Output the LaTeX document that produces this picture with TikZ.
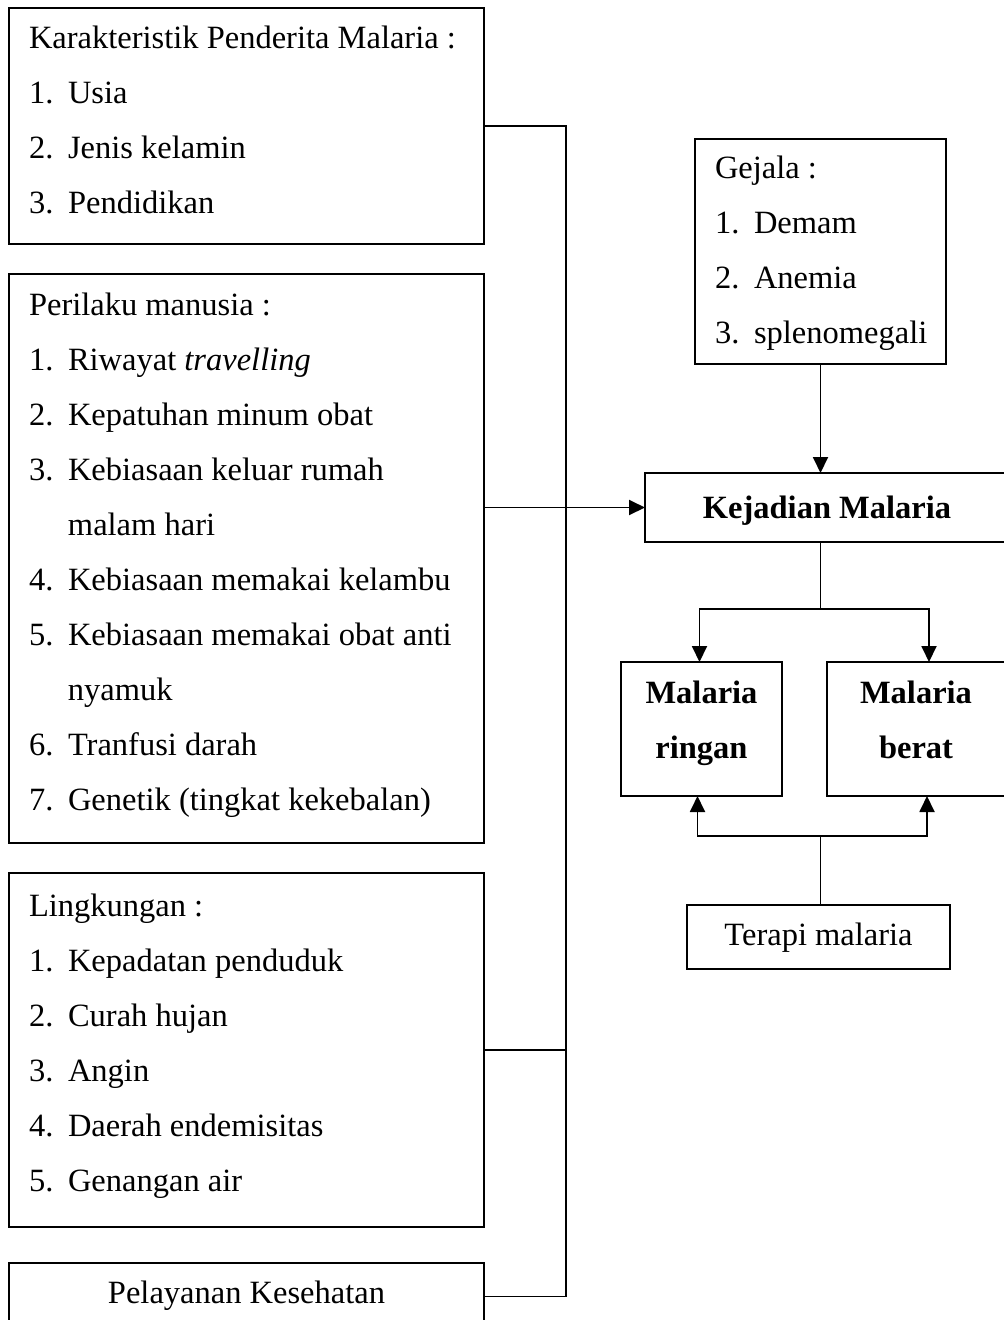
\documentclass[tikz,border=0pt]{standalone}
\usepackage{fontspec}
\setmainfont{Liberation Serif}
\usetikzlibrary{arrows.meta}

\newcommand{\nr}[1]{\makebox[39pt][l]{#1}}
\newcommand{\lst}[2]{\makebox[#1][l]{\begin{tabular}[t]{@{}l@{}}#2\end{tabular}}}
\newcommand{\stk}[1]{\begin{tabular}[t]{@{}c@{}}#1\end{tabular}}

\begin{document}
\begin{tikzpicture}[x=1pt,y=-1pt,
    font=\fontsize{32.5}{55}\selectfont,
    boxnode/.style={draw, line width=2pt, inner ysep=0pt, outer sep=0pt},
    listnode/.style={boxnode, inner xsep=20pt, anchor=base west},
    conn/.style={line width=1.9pt},
    flow/.style={conn, -{Triangle[length=16pt,width=15pt]}}]
    \useasboundingbox (0,0) rectangle (1004,1320);

    % Faktor (kiri)
    \node[listnode, text height=40pt, text depth=196pt] (karakteristik) at (9,48)
        {\lst{435pt}{Karakteristik Penderita Malaria :\\ \nr{1.}Usia\\ \nr{2.}Jenis kelamin\\ \nr{3.}Pendidikan}};
    \node[listnode, text height=41pt, text depth=528pt] (perilaku) at (9,315)
        {\lst{435pt}{Perilaku manusia :\\ \nr{1.}Riwayat \textit{travelling}\\ \nr{2.}Kepatuhan minum obat\\
        \nr{3.}Kebiasaan keluar rumah\\ \nr{}malam hari\\ \nr{4.}Kebiasaan memakai kelambu\\
        \nr{5.}Kebiasaan memakai obat anti\\ \nr{}nyamuk\\ \nr{6.}Tranfusi darah\\ \nr{7.}Genetik (tingkat kekebalan)}};
    \node[listnode, text height=43pt, text depth=311pt] (lingkungan) at (9,916)
        {\lst{435pt}{Lingkungan :\\ \nr{1.}Kepadatan penduduk\\ \nr{2.}Curah hujan\\ \nr{3.}Angin\\
        \nr{4.}Daerah endemisitas\\ \nr{5.}Genangan air}};
    \node[boxnode, minimum width=475pt, text height=40pt, text depth=27pt, anchor=base west] (pelayanan) at (9,1303)
        {Pelayanan Kesehatan};

    % Gejala dan kejadian (kanan)
    \node[listnode, text height=39pt, text depth=186pt] (gejala) at (695,178)
        {\lst{211pt}{Gejala :\\ \nr{1.}Demam\\ \nr{2.}Anemia\\ \nr{3.}splenomegali}};
    \node[boxnode, minimum width=364pt, text height=45pt, text depth=24pt, anchor=base] (kejadian) at (827,518)
        {\textbf{Kejadian Malaria}};
    \node[boxnode, minimum width=161pt, text height=41pt, text depth=93pt, anchor=base] (ringan) at (701.5,703)
        {\bfseries\stk{Malaria\\ ringan}};
    \node[boxnode, minimum width=178pt, text height=41pt, text depth=93pt, anchor=base] (berat) at (916,703)
        {\bfseries\stk{Malaria\\ berat}};
    \node[boxnode, minimum width=263pt, text height=40pt, text depth=24pt, anchor=base] (terapi) at (818.5,945)
        {Terapi malaria};

    % Garis penghubung
    \coordinate (bus) at (566,700);
    \draw[conn] (karakteristik.east) -| (bus) |- (pelayanan.east);
    \draw[conn] (lingkungan.east) -- (lingkungan.east -| bus);
    \draw[flow] (perilaku.east |- kejadian.west) -- (kejadian.west);

    \draw[flow] (gejala.south) -- (gejala.south |- kejadian.north);
    \coordinate (split) at (820.5,609);
    \draw[conn] (gejala.south |- kejadian.south) -- (split);
    \draw[flow] (split) -| ([xshift=-2pt]ringan.north);
    \draw[flow] (split) -| ([xshift=13pt]berat.north);

    \coordinate (join) at (820.5,836);
    \draw[conn] (terapi.north -| join) -- (join);
    \draw[flow] (join) -| ([xshift=-4pt]ringan.south);
    \draw[flow] (join) -| ([xshift=11pt]berat.south);
\end{tikzpicture}
\end{document}
